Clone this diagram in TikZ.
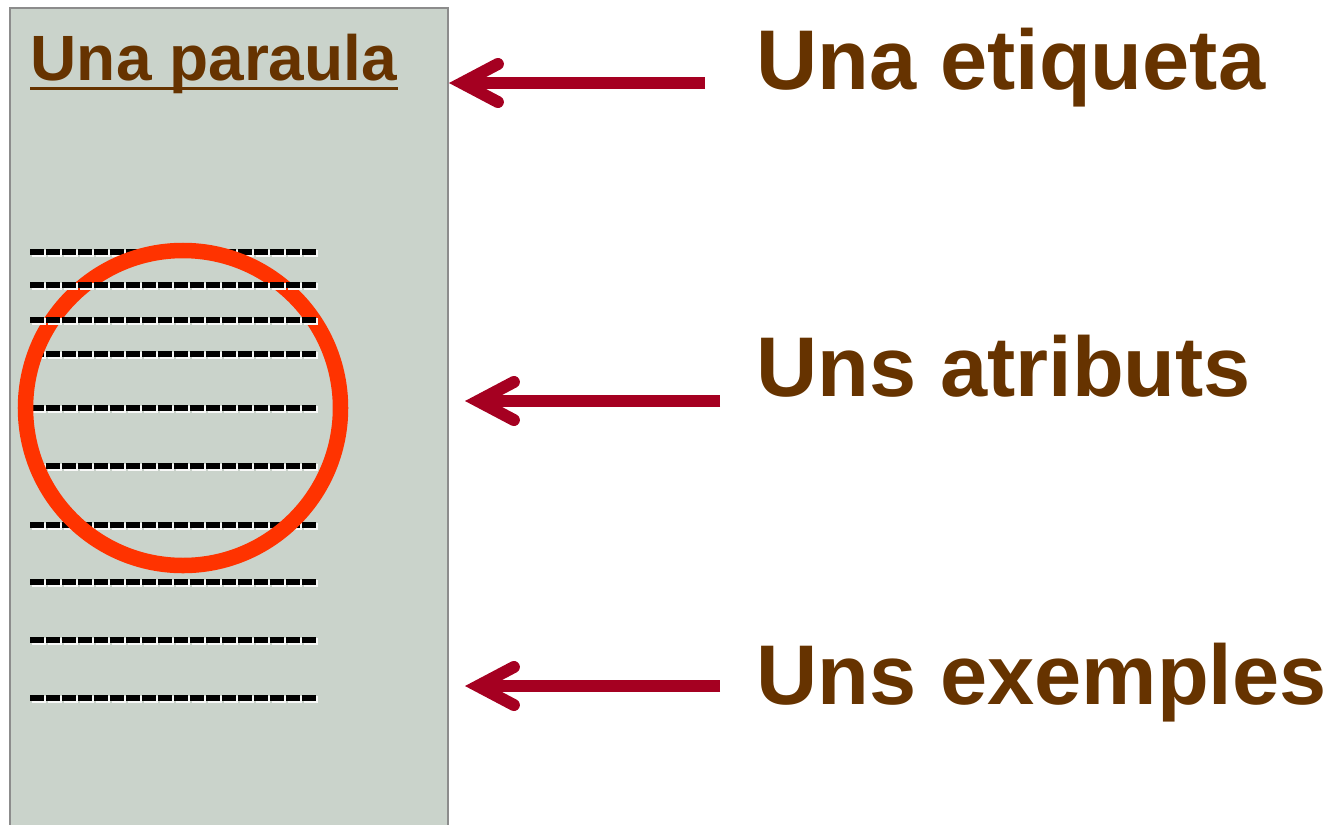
\documentclass[tikz,border=0pt]{standalone}
\usepackage{fontspec}
\setmainfont{Liberation Sans}
\usetikzlibrary{positioning,arrows.meta}
\definecolor{paper}{HTML}{CAD3CB}
\definecolor{frame}{HTML}{8C8C8C}
\definecolor{brownish}{HTML}{663300}
\definecolor{ringred}{HTML}{FF3300}
\definecolor{arrowred}{HTML}{A50021}

\begin{document}
\begin{tikzpicture}[x=0.01cm,y=-0.01cm,
	bigtext/.style={anchor=base west,inner sep=0pt,text=brownish,font=\fontsize{24.1}{28}\selectfont\bfseries},
	pointer/.style={arrowred,line width=0.12cm,-{Straight Barb[length=0.36cm,width=0.38cm,line cap=round]}},
	dashrow/.style={black,line width=0.065cm,dash pattern=on 0.14cm off 0.02cm},
	shadowrow/.style={white!85!paper,line width=0.065cm,dash pattern=on 0.14cm off 0.02cm}]
	\useasboundingbox (0,0) rectangle (1334,824);
	
	\draw[fill=paper,draw=frame,line width=0.025cm] (10,8) rectangle (448,840);
	\node[anchor=base west,inner sep=0pt,text=brownish,font=\fontsize{18.2}{22}\selectfont\bfseries] (word) at (30,80) {Una paraula};
	\draw[brownish,line width=0.03cm] ([yshift=-0.08cm]word.base west) -- ([yshift=-0.08cm]word.base east);
	
	\foreach \r in {252,354,408,466,525,582,640,698} {
		\draw[shadowrow] (31.5,\r+1.5) -- (317.5,\r+1.5);
		\draw[dashrow] (30,\r) -- (316,\r);
	}
	\draw[ringred,line width=0.155cm] (183,408) circle[radius=157.5];
	\foreach \r in {285,320} {
		\draw[shadowrow] (31.5,\r+1.5) -- (317.5,\r+1.5);
		\draw[dashrow] (30,\r) -- (316,\r);
	}
	
	\node[bigtext] (etq) at (756,89) {Una etiqueta};
	\node[bigtext] (atr) at (756,396) {Uns atributs};
	\node[bigtext] (exm) at (756,704) {Uns exemples};
	
	\coordinate (fr1) at (705,83);
	\coordinate (to1) at (449,83);
	\coordinate (fr2) at (720,401);
	\coordinate (to2) at (465,401);
	\coordinate (fr3) at (720,686);
	\coordinate (to3) at (465,686);
	\draw[pointer] (fr1) -- (to1);
	\draw[pointer] (fr2) -- (to2);
	\draw[pointer] (fr3) -- (to3);
\end{tikzpicture}
\end{document}
